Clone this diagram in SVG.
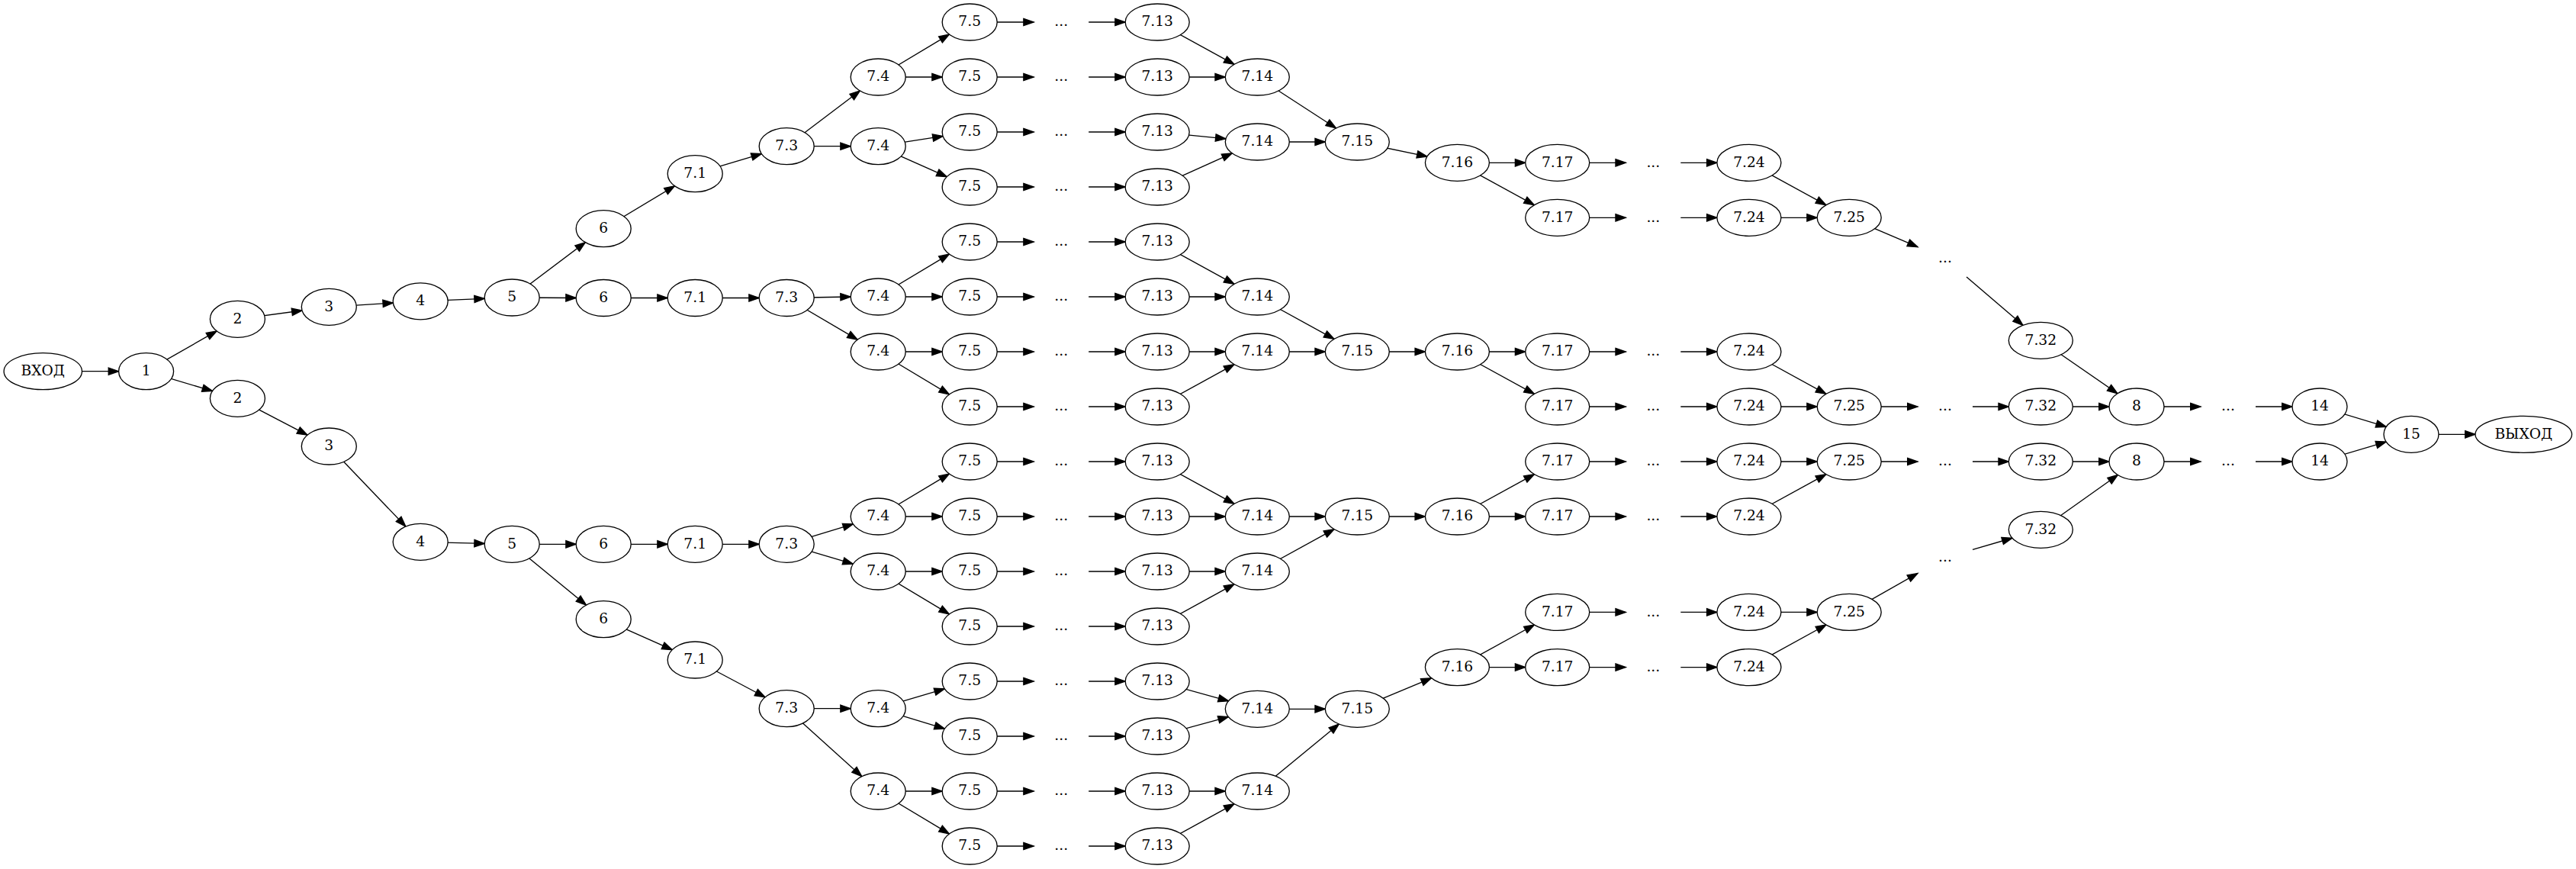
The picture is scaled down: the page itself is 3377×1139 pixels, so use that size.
<svg xmlns="http://www.w3.org/2000/svg" width="3377" height="1139" viewBox="0 0 3377 1139">
<style>
ellipse{fill:#fff;stroke:#000;stroke-width:1.33}
text{font-family:"DejaVu Serif","Liberation Serif",serif;font-size:18.67px;text-anchor:middle;fill:#000}
#edges path{fill:none;stroke:#000;stroke-width:1.33;marker-end:url(#arr)}
</style>
<defs>
<marker id="arr" markerUnits="userSpaceOnUse" markerWidth="16" markerHeight="12" refX="13.33" refY="6" orient="auto" overflow="visible">
<path d="M0,1.33 L13.33,6 L0,10.67 Z" fill="#000" stroke="#000" stroke-width="1.33"/>
</marker>
</defs>
<rect width="3377" height="1139" fill="#fff"/>
<g id="edges">
<path d="M56.3,486.7 L155.6,486.7"/>
<path d="M191.6,486.7 L284.06,433.91"/>
<path d="M191.6,486.7 L278.52,512.53"/>
<path d="M311.4,418.3 L396,407.01"/>
<path d="M431.3,402.3 L515.36,397.04"/>
<path d="M551.2,394.8 L635.26,391.44"/>
<path d="M311.4,522.3 L402.97,570.19"/>
<path d="M431.3,585 L531.84,690.07"/>
<path d="M551.2,710.3 L635.23,712.4"/>
<path d="M671.2,390 L767.33,317.66"/>
<path d="M671.2,390 L755.2,390.5"/>
<path d="M671.2,713.3 L755.2,713.3"/>
<path d="M671.2,713.3 L768.49,793.08"/>
<!-- group A -->
<path d="M791.2,299.7 L884.44,243.76"/>
<path d="M911.2,227.7 L998.37,201.55"/>
<path d="M1031.2,191.7 L1127.39,119"/>
<path d="M1031.2,191.7 L1115.2,191.7"/>
<path d="M1151.2,101 L1244.44,45.06"/>
<path d="M1151.2,101 L1235.2,101"/>
<path d="M1151.2,191.7 L1236.14,178.46"/>
<path d="M1151.2,191.7 L1241.24,231.69"/>
<!-- group B -->
<path d="M791.2,390.5 L875.2,390.5"/>
<path d="M911.2,390.5 L995.2,390.5"/>
<path d="M1031.2,390.5 L1115.2,389"/>
<path d="M1031.2,390.5 L1124.19,445.13"/>
<path d="M1151.2,389 L1244.44,333.06"/>
<path d="M1151.2,389 L1235.2,389"/>
<path d="M1151.2,461 L1235.2,461"/>
<path d="M1151.2,461 L1244.44,516.94"/>
<!-- group C -->
<path d="M791.2,713.3 L875.2,713.3"/>
<path d="M911.2,713.3 L995.2,713.3"/>
<path d="M1031.2,713.3 L1118.42,686.92"/>
<path d="M1031.2,713.3 L1118.32,739.22"/>
<path d="M1151.2,677 L1244.44,621.06"/>
<path d="M1151.2,677 L1235.2,677"/>
<path d="M1151.2,749 L1235.2,749"/>
<path d="M1151.2,749 L1244.44,804.94"/>
<!-- group D -->
<path d="M791.2,811.7 L881.24,851.69"/>
<path d="M911.2,865 L1003.04,913.75"/>
<path d="M1031.2,928.7 L1115.2,928.7"/>
<path d="M1031.2,928.7 L1129.81,1017.7"/>
<path d="M1151.2,928.7 L1238.32,902.78"/>
<path d="M1151.2,928.7 L1238.42,955.08"/>
<path d="M1151.2,1037 L1235.2,1037"/>
<path d="M1151.2,1037 L1244.44,1092.94"/>
<!-- 7.5 -> ... -> 7.13 rows -->
<path d="M1271.2,29 L1355.2,29"/><path d="M1427.2,29 L1475.2,29"/>
<path d="M1271.2,101 L1355.2,101"/><path d="M1427.2,101 L1475.2,101"/>
<path d="M1271.2,173 L1355.2,173"/><path d="M1427.2,173 L1475.2,173"/>
<path d="M1271.2,245 L1355.2,245"/><path d="M1427.2,245 L1475.2,245"/>
<path d="M1271.2,317 L1355.2,317"/><path d="M1427.2,317 L1475.2,317"/>
<path d="M1271.2,389 L1355.2,389"/><path d="M1427.2,389 L1475.2,389"/>
<path d="M1271.2,461 L1355.2,461"/><path d="M1427.2,461 L1475.2,461"/>
<path d="M1271.2,533 L1355.2,533"/><path d="M1427.2,533 L1475.2,533"/>
<path d="M1271.2,605 L1355.2,605"/><path d="M1427.2,605 L1475.2,605"/>
<path d="M1271.2,677 L1355.2,677"/><path d="M1427.2,677 L1475.2,677"/>
<path d="M1271.2,749 L1355.2,749"/><path d="M1427.2,749 L1475.2,749"/>
<path d="M1271.2,821 L1355.2,821"/><path d="M1427.2,821 L1475.2,821"/>
<path d="M1271.2,893 L1355.2,893"/><path d="M1427.2,893 L1475.2,893"/>
<path d="M1271.2,965 L1355.2,965"/><path d="M1427.2,965 L1475.2,965"/>
<path d="M1271.2,1037 L1355.2,1037"/><path d="M1427.2,1037 L1475.2,1037"/>
<path d="M1271.2,1109 L1355.2,1109"/><path d="M1427.2,1109 L1475.2,1109"/>
<!-- 7.13 -> 7.14 -->
<path d="M1517.2,29 L1618.02,84.37"/>
<path d="M1517.2,101 L1606.3,101"/>
<path d="M1517.2,173 L1606.92,181.9"/>
<path d="M1517.2,245 L1615.3,200.85"/>
<path d="M1517.2,317 L1618.02,372.37"/>
<path d="M1517.2,389 L1606.3,389"/>
<path d="M1517.2,461 L1606.3,461"/>
<path d="M1517.2,533 L1618.02,477.63"/>
<path d="M1517.2,605 L1618.02,660.37"/>
<path d="M1517.2,677 L1606.3,677"/>
<path d="M1517.2,749 L1606.3,749"/>
<path d="M1517.2,821 L1618.02,765.63"/>
<path d="M1517.2,893 L1610.5,918.83"/>
<path d="M1517.2,965 L1610.38,939.62"/>
<path d="M1517.2,1037 L1606.3,1037"/>
<path d="M1517.2,1109 L1618.02,1053.63"/>
<!-- 7.14 -> 7.15 -->
<path d="M1648.3,101 L1751.54,167.99"/>
<path d="M1648.3,186 L1737.3,186"/>
<path d="M1648.3,389 L1749.03,444.36"/>
<path d="M1648.3,461 L1737.3,461"/>
<path d="M1648.3,677 L1737.3,677"/>
<path d="M1648.3,749 L1749.03,693.64"/>
<path d="M1648.3,929.3 L1737.3,929.3"/>
<path d="M1648.3,1037 L1755.33,949.01"/>
<!-- 7.15 -> 7.16 -->
<path d="M1779.3,186 L1870.94,205.08"/>
<path d="M1779.3,461 L1868.4,461"/>
<path d="M1779.3,677 L1868.4,677"/>
<path d="M1779.3,929.3 L1876.46,888.84"/>
<!-- 7.16 -> 7.17 -->
<path d="M1910.4,213.3 L1999.7,213.3"/>
<path d="M1910.4,213.3 L2011.4,268.68"/>
<path d="M1910.4,461 L1999.7,461"/>
<path d="M1910.4,461 L2011.4,516.38"/>
<path d="M1910.4,677 L2011.4,621.62"/>
<path d="M1910.4,677 L1999.7,677"/>
<path d="M1910.4,874.6 L2011.44,819.04"/>
<path d="M1910.4,874.6 L1999.7,874.6"/>
<!-- 7.17 -> ... -> 7.24 -->
<path d="M2041.7,213.3 L2131.3,213.3"/><path d="M2203.3,213.3 L2250.9,213.3"/>
<path d="M2041.7,285.3 L2131.3,285.3"/><path d="M2203.3,285.3 L2250.9,285.3"/>
<path d="M2041.7,461 L2131.3,461"/><path d="M2203.3,461 L2250.9,461"/>
<path d="M2041.7,533 L2131.3,533"/><path d="M2203.3,533 L2250.9,533"/>
<path d="M2041.7,605 L2131.3,605"/><path d="M2203.3,605 L2250.9,605"/>
<path d="M2041.7,677 L2131.3,677"/><path d="M2203.3,677 L2250.9,677"/>
<path d="M2041.7,802.4 L2131.3,802.4"/><path d="M2203.3,802.4 L2250.9,802.4"/>
<path d="M2041.7,874.6 L2131.3,874.6"/><path d="M2203.3,874.6 L2250.9,874.6"/>
<!-- 7.24 -> 7.25 -->
<path d="M2292.9,213.3 L2393.9,268.68"/>
<path d="M2292.9,285.3 L2382.2,285.3"/>
<path d="M2292.9,461 L2393.9,516.38"/>
<path d="M2292.9,533 L2382.2,533"/>
<path d="M2292.9,605 L2382.2,605"/>
<path d="M2292.9,677 L2393.9,621.62"/>
<path d="M2292.9,802.4 L2382.2,802.4"/>
<path d="M2292.9,874.6 L2393.94,819.04"/>
<!-- 7.25 -> ... -> 7.32 -->
<path d="M2424.2,285.3 L2514,323.63"/>
<path d="M2424.2,533 L2514,533"/>
<path d="M2424.2,605 L2514,605"/>
<path d="M2424.2,802.4 L2514,751.43"/>
<path d="M2578.03,363 L2651.99,426.34"/>
<path d="M2586,533 L2633.3,533"/>
<path d="M2586,605 L2633.3,605"/>
<path d="M2586,720.46 L2637.92,705.25"/>
<!-- 7.32 -> 8 -> ... -> 14 -> 15 -> out -->
<path d="M2675.3,446.3 L2775.98,515.74"/>
<path d="M2675.3,533 L2765,533"/>
<path d="M2675.3,605 L2765,605"/>
<path d="M2675.3,694.3 L2776.37,622.5"/>
<path d="M2801,533 L2885,533"/>
<path d="M2801,605 L2885,605"/>
<path d="M2957,533 L3005,533"/>
<path d="M2957,605 L3005,605"/>
<path d="M3041,533 L3128.22,559.38"/>
<path d="M3041,605 L3128.12,579.08"/>
<path d="M3161,569.3 L3245,569.3"/>
</g>
<g id="nodes">
<g id="in"><ellipse cx="56.3" cy="486.7" rx="51.2" ry="24"/><text x="56.3" y="492">ВХОД</text></g>
<g id="n1"><ellipse cx="191.6" cy="486.7" rx="36" ry="24"/><text x="191.6" y="492">1</text></g>
<g id="a2"><ellipse cx="311.4" cy="418.3" rx="36" ry="24"/><text x="311.4" y="423.6">2</text></g>
<g id="a3"><ellipse cx="431.3" cy="402.3" rx="36" ry="24"/><text x="431.3" y="407.6">3</text></g>
<g id="a4"><ellipse cx="551.2" cy="394.8" rx="36" ry="24"/><text x="551.2" y="400.1">4</text></g>
<g id="a5"><ellipse cx="671.2" cy="390" rx="36" ry="24"/><text x="671.2" y="395.3">5</text></g>
<g id="b2"><ellipse cx="311.4" cy="522.3" rx="36" ry="24"/><text x="311.4" y="527.6">2</text></g>
<g id="b3"><ellipse cx="431.3" cy="585" rx="36" ry="24"/><text x="431.3" y="590.3">3</text></g>
<g id="b4"><ellipse cx="551.2" cy="710.3" rx="36" ry="24"/><text x="551.2" y="715.6">4</text></g>
<g id="b5"><ellipse cx="671.2" cy="713.3" rx="36" ry="24"/><text x="671.2" y="718.6">5</text></g>
<g id="A6"><ellipse cx="791.2" cy="299.7" rx="36" ry="24"/><text x="791.2" y="305">6</text></g>
<g id="B6"><ellipse cx="791.2" cy="390.5" rx="36" ry="24"/><text x="791.2" y="395.8">6</text></g>
<g id="C6"><ellipse cx="791.2" cy="713.3" rx="36" ry="24"/><text x="791.2" y="718.6">6</text></g>
<g id="D6"><ellipse cx="791.2" cy="811.7" rx="36" ry="24"/><text x="791.2" y="817">6</text></g>
<g id="A71"><ellipse cx="911.2" cy="227.7" rx="36" ry="24"/><text x="911.2" y="233">7.1</text></g>
<g id="B71"><ellipse cx="911.2" cy="390.5" rx="36" ry="24"/><text x="911.2" y="395.8">7.1</text></g>
<g id="C71"><ellipse cx="911.2" cy="713.3" rx="36" ry="24"/><text x="911.2" y="718.6">7.1</text></g>
<g id="D71"><ellipse cx="911.2" cy="865" rx="36" ry="24"/><text x="911.2" y="870.3">7.1</text></g>
<g id="A73"><ellipse cx="1031.2" cy="191.7" rx="36" ry="24"/><text x="1031.2" y="197">7.3</text></g>
<g id="B73"><ellipse cx="1031.2" cy="390.5" rx="36" ry="24"/><text x="1031.2" y="395.8">7.3</text></g>
<g id="C73"><ellipse cx="1031.2" cy="713.3" rx="36" ry="24"/><text x="1031.2" y="718.6">7.3</text></g>
<g id="D73"><ellipse cx="1031.2" cy="928.7" rx="36" ry="24"/><text x="1031.2" y="934">7.3</text></g>
<g id="A74a"><ellipse cx="1151.2" cy="101" rx="36" ry="24"/><text x="1151.2" y="106.3">7.4</text></g>
<g id="A74b"><ellipse cx="1151.2" cy="191.7" rx="36" ry="24"/><text x="1151.2" y="197">7.4</text></g>
<g id="B74a"><ellipse cx="1151.2" cy="389" rx="36" ry="24"/><text x="1151.2" y="394.3">7.4</text></g>
<g id="B74b"><ellipse cx="1151.2" cy="461" rx="36" ry="24"/><text x="1151.2" y="466.3">7.4</text></g>
<g id="C74a"><ellipse cx="1151.2" cy="677" rx="36" ry="24"/><text x="1151.2" y="682.3">7.4</text></g>
<g id="C74b"><ellipse cx="1151.2" cy="749" rx="36" ry="24"/><text x="1151.2" y="754.3">7.4</text></g>
<g id="D74a"><ellipse cx="1151.2" cy="928.7" rx="36" ry="24"/><text x="1151.2" y="934">7.4</text></g>
<g id="D74b"><ellipse cx="1151.2" cy="1037" rx="36" ry="24"/><text x="1151.2" y="1042.3">7.4</text></g>
<g id="n75_0"><ellipse cx="1271.2" cy="29" rx="36" ry="24"/><text x="1271.2" y="34.3">7.5</text></g>
<g id="n75_1"><ellipse cx="1271.2" cy="101" rx="36" ry="24"/><text x="1271.2" y="106.3">7.5</text></g>
<g id="n75_2"><ellipse cx="1271.2" cy="173" rx="36" ry="24"/><text x="1271.2" y="178.3">7.5</text></g>
<g id="n75_3"><ellipse cx="1271.2" cy="245" rx="36" ry="24"/><text x="1271.2" y="250.3">7.5</text></g>
<g id="n75_4"><ellipse cx="1271.2" cy="317" rx="36" ry="24"/><text x="1271.2" y="322.3">7.5</text></g>
<g id="n75_5"><ellipse cx="1271.2" cy="389" rx="36" ry="24"/><text x="1271.2" y="394.3">7.5</text></g>
<g id="n75_6"><ellipse cx="1271.2" cy="461" rx="36" ry="24"/><text x="1271.2" y="466.3">7.5</text></g>
<g id="n75_7"><ellipse cx="1271.2" cy="533" rx="36" ry="24"/><text x="1271.2" y="538.3">7.5</text></g>
<g id="n75_8"><ellipse cx="1271.2" cy="605" rx="36" ry="24"/><text x="1271.2" y="610.3">7.5</text></g>
<g id="n75_9"><ellipse cx="1271.2" cy="677" rx="36" ry="24"/><text x="1271.2" y="682.3">7.5</text></g>
<g id="n75_10"><ellipse cx="1271.2" cy="749" rx="36" ry="24"/><text x="1271.2" y="754.3">7.5</text></g>
<g id="n75_11"><ellipse cx="1271.2" cy="821" rx="36" ry="24"/><text x="1271.2" y="826.3">7.5</text></g>
<g id="n75_12"><ellipse cx="1271.2" cy="893" rx="36" ry="24"/><text x="1271.2" y="898.3">7.5</text></g>
<g id="n75_13"><ellipse cx="1271.2" cy="965" rx="36" ry="24"/><text x="1271.2" y="970.3">7.5</text></g>
<g id="n75_14"><ellipse cx="1271.2" cy="1037" rx="36" ry="24"/><text x="1271.2" y="1042.3">7.5</text></g>
<g id="n75_15"><ellipse cx="1271.2" cy="1109" rx="36" ry="24"/><text x="1271.2" y="1114.3">7.5</text></g>
<g id="d1_0"><text x="1391.2" y="34.3">...</text></g>
<g id="d1_1"><text x="1391.2" y="106.3">...</text></g>
<g id="d1_2"><text x="1391.2" y="178.3">...</text></g>
<g id="d1_3"><text x="1391.2" y="250.3">...</text></g>
<g id="d1_4"><text x="1391.2" y="322.3">...</text></g>
<g id="d1_5"><text x="1391.2" y="394.3">...</text></g>
<g id="d1_6"><text x="1391.2" y="466.3">...</text></g>
<g id="d1_7"><text x="1391.2" y="538.3">...</text></g>
<g id="d1_8"><text x="1391.2" y="610.3">...</text></g>
<g id="d1_9"><text x="1391.2" y="682.3">...</text></g>
<g id="d1_10"><text x="1391.2" y="754.3">...</text></g>
<g id="d1_11"><text x="1391.2" y="826.3">...</text></g>
<g id="d1_12"><text x="1391.2" y="898.3">...</text></g>
<g id="d1_13"><text x="1391.2" y="970.3">...</text></g>
<g id="d1_14"><text x="1391.2" y="1042.3">...</text></g>
<g id="d1_15"><text x="1391.2" y="1114.3">...</text></g>
<g id="n713_0"><ellipse cx="1517.2" cy="29" rx="42" ry="24"/><text x="1517.2" y="34.3">7.13</text></g>
<g id="n713_1"><ellipse cx="1517.2" cy="101" rx="42" ry="24"/><text x="1517.2" y="106.3">7.13</text></g>
<g id="n713_2"><ellipse cx="1517.2" cy="173" rx="42" ry="24"/><text x="1517.2" y="178.3">7.13</text></g>
<g id="n713_3"><ellipse cx="1517.2" cy="245" rx="42" ry="24"/><text x="1517.2" y="250.3">7.13</text></g>
<g id="n713_4"><ellipse cx="1517.2" cy="317" rx="42" ry="24"/><text x="1517.2" y="322.3">7.13</text></g>
<g id="n713_5"><ellipse cx="1517.2" cy="389" rx="42" ry="24"/><text x="1517.2" y="394.3">7.13</text></g>
<g id="n713_6"><ellipse cx="1517.2" cy="461" rx="42" ry="24"/><text x="1517.2" y="466.3">7.13</text></g>
<g id="n713_7"><ellipse cx="1517.2" cy="533" rx="42" ry="24"/><text x="1517.2" y="538.3">7.13</text></g>
<g id="n713_8"><ellipse cx="1517.2" cy="605" rx="42" ry="24"/><text x="1517.2" y="610.3">7.13</text></g>
<g id="n713_9"><ellipse cx="1517.2" cy="677" rx="42" ry="24"/><text x="1517.2" y="682.3">7.13</text></g>
<g id="n713_10"><ellipse cx="1517.2" cy="749" rx="42" ry="24"/><text x="1517.2" y="754.3">7.13</text></g>
<g id="n713_11"><ellipse cx="1517.2" cy="821" rx="42" ry="24"/><text x="1517.2" y="826.3">7.13</text></g>
<g id="n713_12"><ellipse cx="1517.2" cy="893" rx="42" ry="24"/><text x="1517.2" y="898.3">7.13</text></g>
<g id="n713_13"><ellipse cx="1517.2" cy="965" rx="42" ry="24"/><text x="1517.2" y="970.3">7.13</text></g>
<g id="n713_14"><ellipse cx="1517.2" cy="1037" rx="42" ry="24"/><text x="1517.2" y="1042.3">7.13</text></g>
<g id="n713_15"><ellipse cx="1517.2" cy="1109" rx="42" ry="24"/><text x="1517.2" y="1114.3">7.13</text></g>
<g id="A714a"><ellipse cx="1648.3" cy="101" rx="42" ry="24"/><text x="1648.3" y="106.3">7.14</text></g>
<g id="A714b"><ellipse cx="1648.3" cy="186" rx="42" ry="24"/><text x="1648.3" y="191.3">7.14</text></g>
<g id="B714a"><ellipse cx="1648.3" cy="389" rx="42" ry="24"/><text x="1648.3" y="394.3">7.14</text></g>
<g id="B714b"><ellipse cx="1648.3" cy="461" rx="42" ry="24"/><text x="1648.3" y="466.3">7.14</text></g>
<g id="C714a"><ellipse cx="1648.3" cy="677" rx="42" ry="24"/><text x="1648.3" y="682.3">7.14</text></g>
<g id="C714b"><ellipse cx="1648.3" cy="749" rx="42" ry="24"/><text x="1648.3" y="754.3">7.14</text></g>
<g id="D714a"><ellipse cx="1648.3" cy="929.3" rx="42" ry="24"/><text x="1648.3" y="934.6">7.14</text></g>
<g id="D714b"><ellipse cx="1648.3" cy="1037" rx="42" ry="24"/><text x="1648.3" y="1042.3">7.14</text></g>
<g id="A715"><ellipse cx="1779.3" cy="186" rx="42" ry="24"/><text x="1779.3" y="191.3">7.15</text></g>
<g id="B715"><ellipse cx="1779.3" cy="461" rx="42" ry="24"/><text x="1779.3" y="466.3">7.15</text></g>
<g id="C715"><ellipse cx="1779.3" cy="677" rx="42" ry="24"/><text x="1779.3" y="682.3">7.15</text></g>
<g id="D715"><ellipse cx="1779.3" cy="929.3" rx="42" ry="24"/><text x="1779.3" y="934.6">7.15</text></g>
<g id="A716"><ellipse cx="1910.4" cy="213.3" rx="42" ry="24"/><text x="1910.4" y="218.6">7.16</text></g>
<g id="B716"><ellipse cx="1910.4" cy="461" rx="42" ry="24"/><text x="1910.4" y="466.3">7.16</text></g>
<g id="C716"><ellipse cx="1910.4" cy="677" rx="42" ry="24"/><text x="1910.4" y="682.3">7.16</text></g>
<g id="D716"><ellipse cx="1910.4" cy="874.6" rx="42" ry="24"/><text x="1910.4" y="879.9">7.16</text></g>
<g id="A717a"><ellipse cx="2041.7" cy="213.3" rx="42" ry="24"/><text x="2041.7" y="218.6">7.17</text></g>
<g id="A717b"><ellipse cx="2041.7" cy="285.3" rx="42" ry="24"/><text x="2041.7" y="290.6">7.17</text></g>
<g id="B717a"><ellipse cx="2041.7" cy="461" rx="42" ry="24"/><text x="2041.7" y="466.3">7.17</text></g>
<g id="B717b"><ellipse cx="2041.7" cy="533" rx="42" ry="24"/><text x="2041.7" y="538.3">7.17</text></g>
<g id="C717a"><ellipse cx="2041.7" cy="605" rx="42" ry="24"/><text x="2041.7" y="610.3">7.17</text></g>
<g id="C717b"><ellipse cx="2041.7" cy="677" rx="42" ry="24"/><text x="2041.7" y="682.3">7.17</text></g>
<g id="D717a"><ellipse cx="2041.7" cy="802.4" rx="42" ry="24"/><text x="2041.7" y="807.7">7.17</text></g>
<g id="D717b"><ellipse cx="2041.7" cy="874.6" rx="42" ry="24"/><text x="2041.7" y="879.9">7.17</text></g>
<g id="d2_A1"><text x="2167.3" y="218.6">...</text></g>
<g id="d2_A2"><text x="2167.3" y="290.6">...</text></g>
<g id="d2_B1"><text x="2167.3" y="466.3">...</text></g>
<g id="d2_B2"><text x="2167.3" y="538.3">...</text></g>
<g id="d2_C1"><text x="2167.3" y="610.3">...</text></g>
<g id="d2_C2"><text x="2167.3" y="682.3">...</text></g>
<g id="d2_D1"><text x="2167.3" y="807.7">...</text></g>
<g id="d2_D2"><text x="2167.3" y="879.9">...</text></g>
<g id="A724a"><ellipse cx="2292.9" cy="213.3" rx="42" ry="24"/><text x="2292.9" y="218.6">7.24</text></g>
<g id="A724b"><ellipse cx="2292.9" cy="285.3" rx="42" ry="24"/><text x="2292.9" y="290.6">7.24</text></g>
<g id="B724a"><ellipse cx="2292.9" cy="461" rx="42" ry="24"/><text x="2292.9" y="466.3">7.24</text></g>
<g id="B724b"><ellipse cx="2292.9" cy="533" rx="42" ry="24"/><text x="2292.9" y="538.3">7.24</text></g>
<g id="C724a"><ellipse cx="2292.9" cy="605" rx="42" ry="24"/><text x="2292.9" y="610.3">7.24</text></g>
<g id="C724b"><ellipse cx="2292.9" cy="677" rx="42" ry="24"/><text x="2292.9" y="682.3">7.24</text></g>
<g id="D724a"><ellipse cx="2292.9" cy="802.4" rx="42" ry="24"/><text x="2292.9" y="807.7">7.24</text></g>
<g id="D724b"><ellipse cx="2292.9" cy="874.6" rx="42" ry="24"/><text x="2292.9" y="879.9">7.24</text></g>
<g id="A725"><ellipse cx="2424.2" cy="285.3" rx="42" ry="24"/><text x="2424.2" y="290.6">7.25</text></g>
<g id="B725"><ellipse cx="2424.2" cy="533" rx="42" ry="24"/><text x="2424.2" y="538.3">7.25</text></g>
<g id="C725"><ellipse cx="2424.2" cy="605" rx="42" ry="24"/><text x="2424.2" y="610.3">7.25</text></g>
<g id="D725"><ellipse cx="2424.2" cy="802.4" rx="42" ry="24"/><text x="2424.2" y="807.7">7.25</text></g>
<g id="d3_A"><text x="2550" y="344.3">...</text></g>
<g id="d3_B"><text x="2550" y="538.3">...</text></g>
<g id="d3_C"><text x="2550" y="610.3">...</text></g>
<g id="d3_D"><text x="2550" y="736.3">...</text></g>
<g id="A732"><ellipse cx="2675.3" cy="446.3" rx="42" ry="24"/><text x="2675.3" y="451.6">7.32</text></g>
<g id="B732"><ellipse cx="2675.3" cy="533" rx="42" ry="24"/><text x="2675.3" y="538.3">7.32</text></g>
<g id="C732"><ellipse cx="2675.3" cy="605" rx="42" ry="24"/><text x="2675.3" y="610.3">7.32</text></g>
<g id="D732"><ellipse cx="2675.3" cy="694.3" rx="42" ry="24"/><text x="2675.3" y="699.6">7.32</text></g>
<g id="n8a"><ellipse cx="2801" cy="533" rx="36" ry="24"/><text x="2801" y="538.3">8</text></g>
<g id="n8b"><ellipse cx="2801" cy="605" rx="36" ry="24"/><text x="2801" y="610.3">8</text></g>
<g id="d4_a"><text x="2921" y="538.3">...</text></g>
<g id="d4_b"><text x="2921" y="610.3">...</text></g>
<g id="n14a"><ellipse cx="3041" cy="533" rx="36" ry="24"/><text x="3041" y="538.3">14</text></g>
<g id="n14b"><ellipse cx="3041" cy="605" rx="36" ry="24"/><text x="3041" y="610.3">14</text></g>
<g id="n15"><ellipse cx="3161" cy="569.3" rx="36" ry="24"/><text x="3161" y="574.6">15</text></g>
<g id="out"><ellipse cx="3308.3" cy="569.3" rx="63.3" ry="24"/><text x="3308.3" y="574.6">ВЫХОД</text></g>
</g>
</svg>
